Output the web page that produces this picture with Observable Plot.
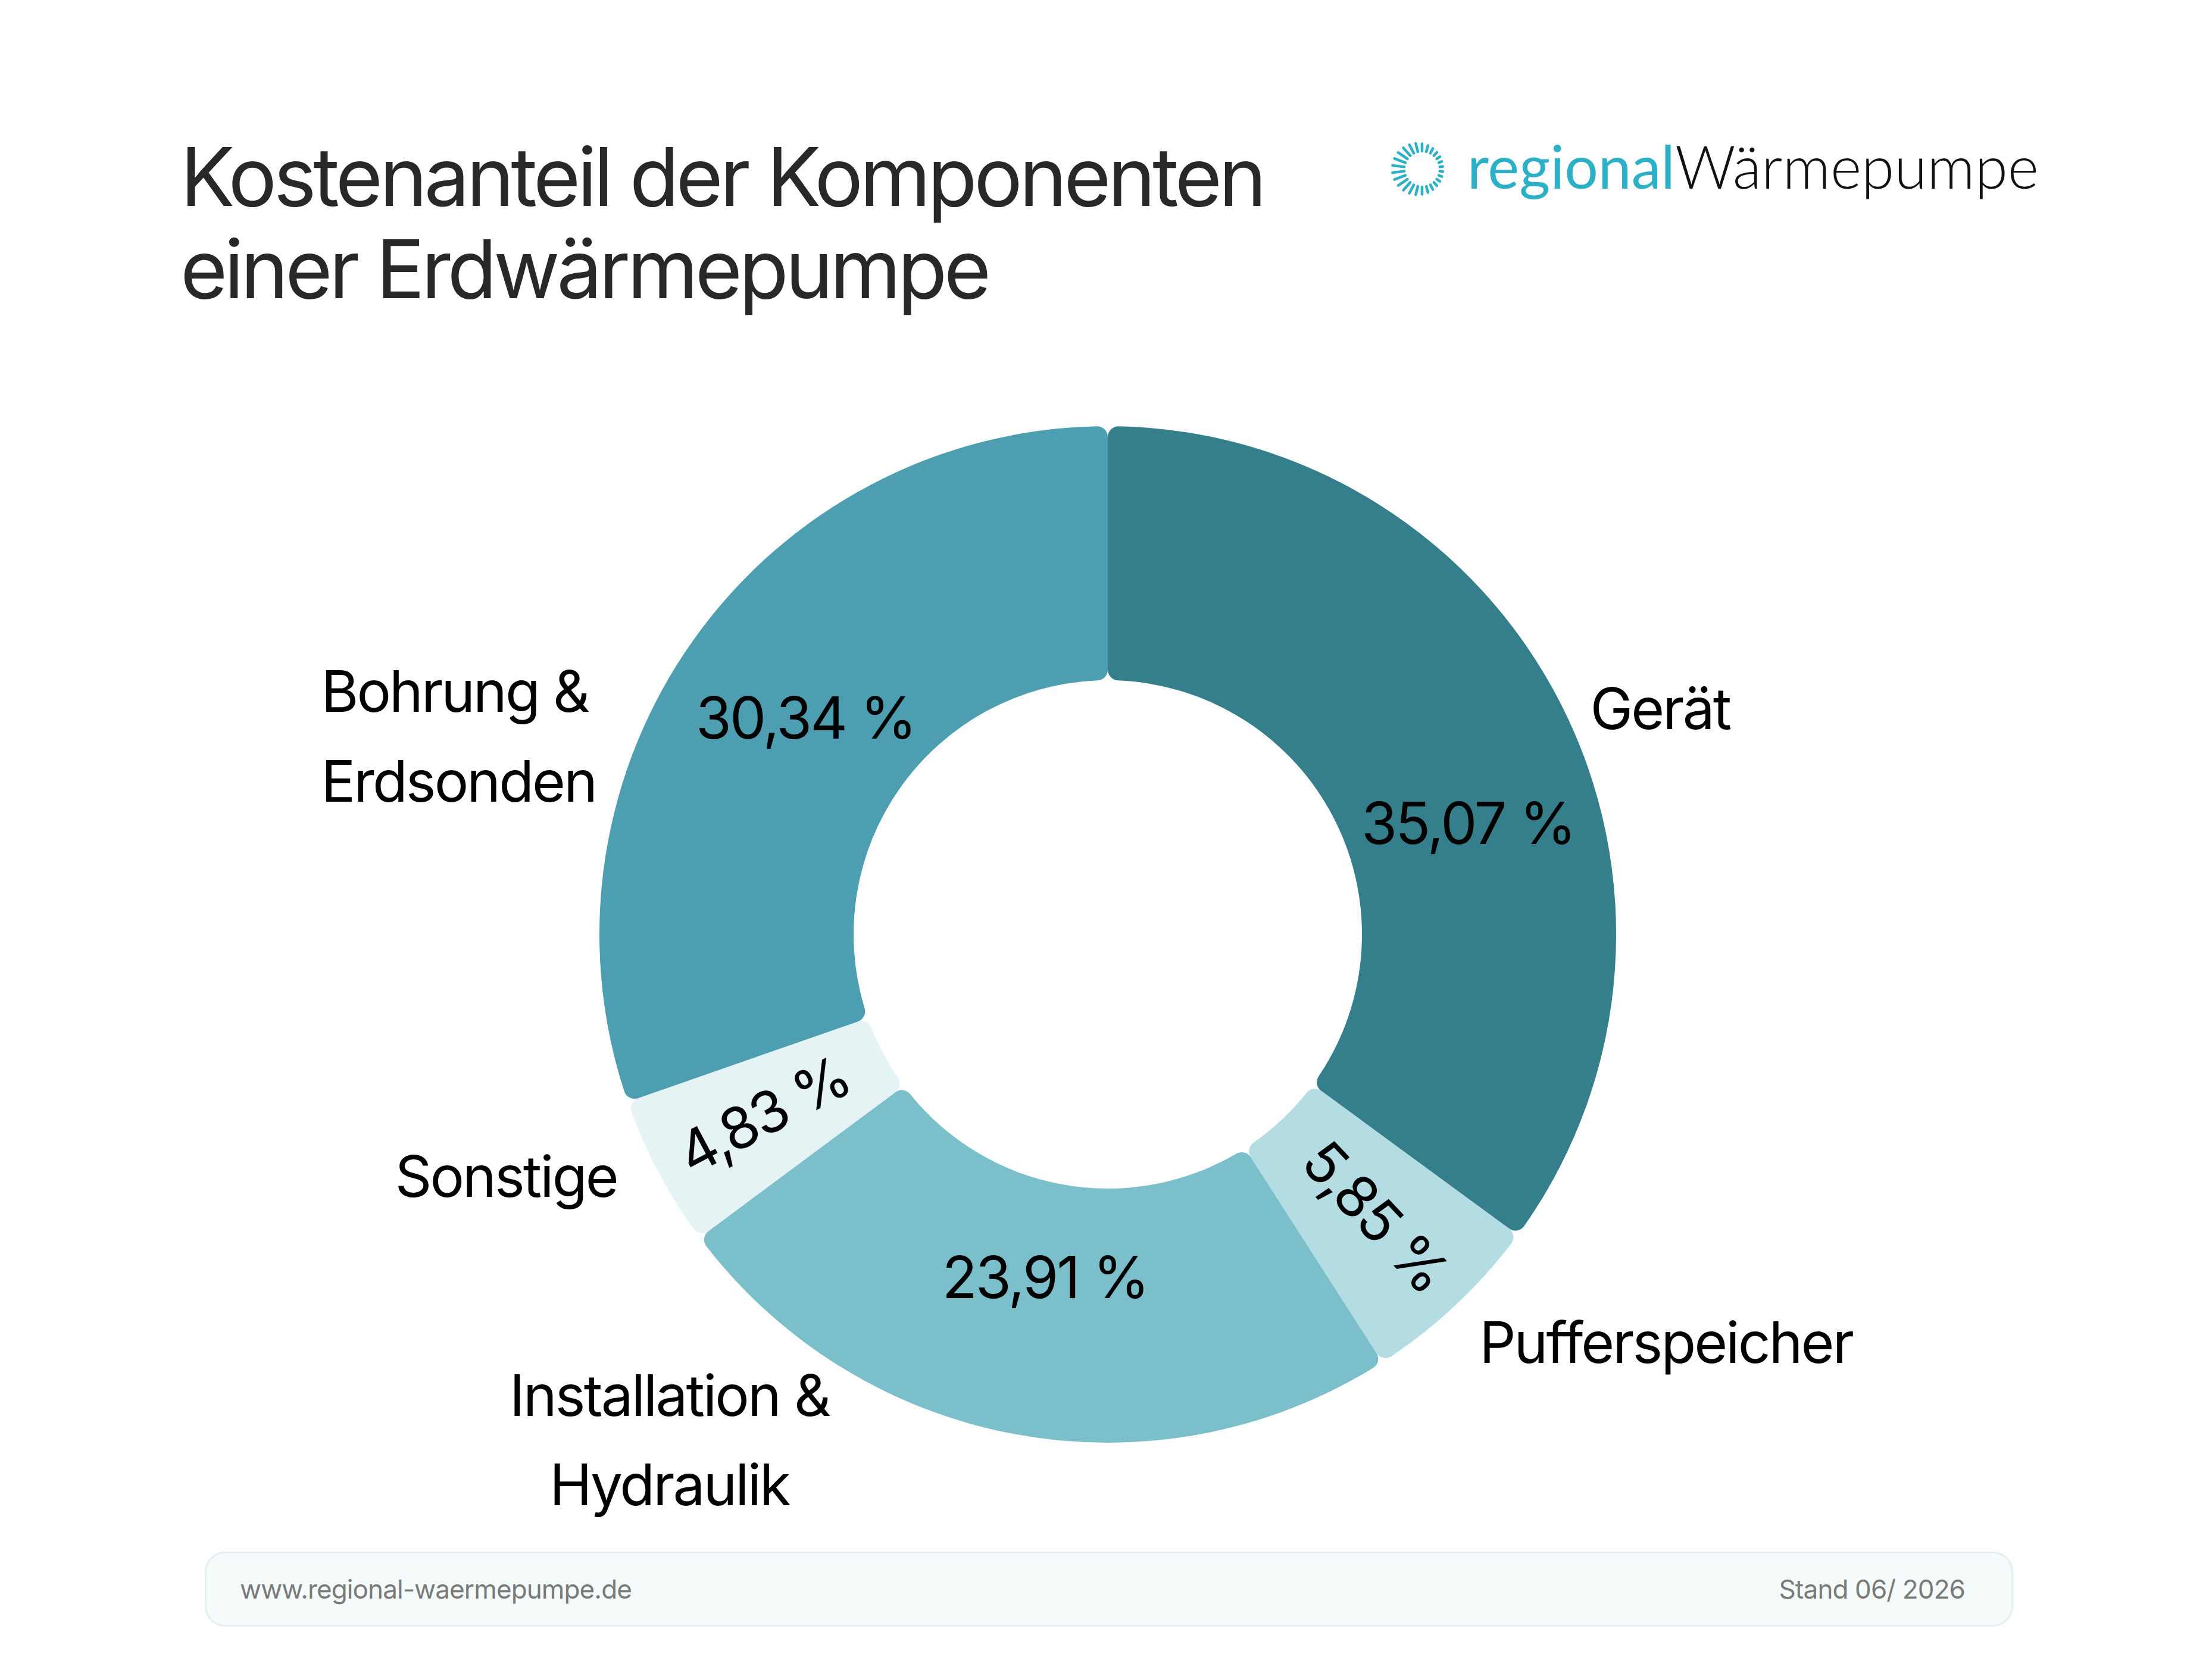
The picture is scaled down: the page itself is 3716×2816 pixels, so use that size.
<!DOCTYPE html>
<html>
<head>
<meta charset="utf-8">
<script src="https://cdn.jsdelivr.net/npm/d3@7"></script>
<script src="https://cdn.jsdelivr.net/npm/@observablehq/plot@0.6"></script>
<style>
html, body { margin: 0; padding: 0; background: #fff; }
body { width: 3716px; height: 2816px; position: relative; overflow: hidden; font-family: Inter, "Noto Sans", sans-serif; }
#title { position: absolute; left: 303px; top: 219px; margin: 0; font-size: 136px; line-height: 155px; letter-spacing: -0.04em; color: #282828; font-weight: 400; }
#logo { position: absolute; left: 2330px; top: 200px; }
#chart { position: absolute; left: 0; top: 600px; }
#footer { position: absolute; left: 344px; top: 2607px; width: 3038px; height: 126px; box-sizing: border-box; border: 3px solid #e3eff1; border-radius: 34px; background: #f5fafb; display: flex; align-items: center; justify-content: space-between; padding: 0 78px 0 56px; font-size: 44px; color: #7a7a7a; letter-spacing: -0.02em; }
.donut text { letter-spacing: -0.03em; }
</style>
</head>
<body>
<h1 id="title">Kostenanteil der Komponenten<br>einer Erdwärmepumpe</h1>
<svg id="logo" width="1250" height="170"></svg>
<div id="chart"></div>
<div id="footer"><span>www.regional-waermepumpe.de</span><span>Stand 06/ 2026</span></div>
<script>
// ---------- data ----------
const categories = ["Gerät", "Pufferspeicher", "Installation & Hydraulik", "Sonstige", "Bohrung & Erdsonden"];
const shares = [35.07, 5.85, 23.91, 4.83, 30.34];
const labelLines = ["Gerät", "Pufferspeicher", "Installation &\nHydraulik", "Sonstige", "Bohrung &\nErdsonden"];
const colors = ["#357f8c", "#b3dde3", "#7bbfcb", "#e5f3f5", "#4c9eb0"];

// ---------- layout ----------
const W = 3716, H = 2000;          // svg size
const CX = 1861, CY = 970;          // donut centre inside svg (px)
const R_PX = 854;                   // outer radius (px) = 1 unit
const INNER = 0.5, CORNER = 18;
const VALUE_R = 0.73, SMALL_VALUE_R = 0.765;
const valueTweak = {"Gerät": {dAngle: 10, r: 0.74}, "Installation & Hydraulik": {r: 0.69}};
const catLayout = {
  "Gerät": {dAngle: 3.8, r: 1.031, anchor: "start"},
  "Pufferspeicher": {dAngle: 2.3, r: 1.115, anchor: "start"},
  "Installation & Hydraulik": {dAngle: 27.2, r: 1.416, anchor: "middle"},
  "Sonstige": {dAngle: -0.2, r: 1.095, anchor: "end"},
  "Bohrung & Erdsonden": {dAngle: -25.8, r: 1.57, anchor: "start"}
};

const pie = d3.pie().sort(null).value(d => d)(shares);
const rows = categories.map((c, i) => {
  const a = pie[i];
  return {category: c, lines: labelLines[i], share: shares[i], color: colors[i],
          start: a.startAngle, end: a.endAngle, mid: (a.startAngle + a.endAngle) / 2};
});
const rad = Math.PI / 180;
const fmt = v => v.toFixed(2).replace(".", ",") + " %";
const isSmall = d => d.share < 7;

function valuePos(d) {
  const t = valueTweak[d.category] || {};
  const ang = d.mid + (t.dAngle || 0) * rad;
  const r = t.r ?? (isSmall(d) ? SMALL_VALUE_R : VALUE_R);
  return [r * Math.sin(ang), r * Math.cos(ang)];
}
function catPos(d) {
  const t = catLayout[d.category];
  const ang = d.mid + t.dAngle * rad;
  return [t.r * Math.sin(ang), t.r * Math.cos(ang)];
}
function valueRotate(d) {
  if (!isSmall(d)) return 0;
  const deg = d.mid / rad;
  return deg < 180 ? deg - 90 : deg - 270;
}

function donutMark(index, scales) {
  const sx = scales && scales.x ? scales.x : (v => CX + v * R_PX);
  const sy = scales && scales.y ? scales.y : (v => CY - v * R_PX);
  const cx = sx(0), cy = sy(0);
  const rOut = sx(1) - sx(0), rIn = sx(INNER) - sx(0);
  const arc = d3.arc().innerRadius(rIn).outerRadius(rOut).cornerRadius(CORNER);
  const g = d3.create("svg:g").attr("transform", `translate(${cx},${cy})`);
  g.selectAll("path").data(rows).join("path")
    .attr("d", d => arc({startAngle: d.start, endAngle: d.end}))
    .attr("fill", d => d.color);
  return g.node();
}

const catMarks = ["start", "middle", "end"].map(anchor =>
  Plot.text(rows.filter(d => catLayout[d.category].anchor === anchor), {
    x: d => catPos(d)[0], y: d => catPos(d)[1], text: "lines",
    textAnchor: anchor, lineAnchor: "bottom", lineHeight: 1.57,
    fontSize: 96, fill: "#000"
  })
);

const chart = Plot.plot({
  width: W, height: H, margin: 0,
  className: "donut",
  x: {domain: [-CX / R_PX, (W - CX) / R_PX], range: [0, W], axis: null},
  y: {domain: [-(H - CY) / R_PX, CY / R_PX], range: [H, 0], axis: null},
  style: {fontFamily: "Inter, 'Noto Sans', sans-serif", background: "transparent", overflow: "visible"},
  marks: [
    donutMark,
    Plot.text(rows, {
      x: d => valuePos(d)[0], y: d => valuePos(d)[1], text: d => fmt(d.share),
      rotate: valueRotate, textAnchor: "middle", lineAnchor: "middle",
      fontSize: 97, fill: "#000"
    }),
    ...catMarks
  ]
});
document.getElementById("chart").appendChild(chart);

// ---------- logo ----------
const logo = d3.select("#logo");
const ic = logo.append("g").attr("transform", "translate(59,84)");
const nD = 26;
for (let i = 0; i < nD; i++) {
  const th = i / nD * 2 * Math.PI;             // clockwise from top
  const left = (1 - Math.sin(th)) / 2;         // 1 at left, 0 at right
  const r0 = 30, len = 5 + 15 * left;
  ic.append("line")
    .attr("x1", r0 * Math.sin(th)).attr("y1", -r0 * Math.cos(th))
    .attr("x2", (r0 + len) * Math.sin(th)).attr("y2", -(r0 + len) * Math.cos(th))
    .attr("stroke", "#2bb0c8").attr("stroke-width", 4.5).attr("stroke-linecap", "round");
}
const lt = logo.append("text").attr("x", 135).attr("y", 117)
  .attr("font-family", "Lato, 'Noto Sans', sans-serif").attr("font-size", 100);
lt.append("tspan").attr("fill", "#2bb0c8").attr("font-weight", 400).text("regional");
lt.append("tspan").attr("fill", "#111").attr("font-weight", 300).text("Wärmepumpe");
</script>
</body>
</html>
